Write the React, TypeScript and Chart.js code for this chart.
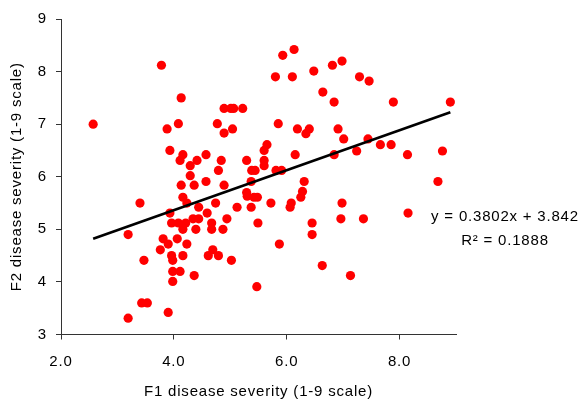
import { useEffect, useRef } from "react";
import { Chart, registerables } from "chart.js";

Chart.register(...registerables);

// F1 and F2 disease severity scores (1-9 scale), one entry per line
const f1Severity = [
  2.57, 3.78, 4.13, 3.88, 4.08, 3.93, 4.16, 4.11, 4.29, 4.41, 4.57, 4.29, 4.13, 4.36, 4.57, 4.77,
  4.89, 5.01, 5.06, 5.22, 4.89, 5.04, 4.84, 4.79, 4.89, 5.29, 5.38, 5.44, 5.6, 5.65, 5.6, 5.6,
  5.85, 5.8, 5.93, 6.13, 6.1, 6.19, 6.15, 5.81, 5.91, 5.37, 5.29, 5.3, 6.48, 6.81, 6.98, 6.64,
  6.84, 7.29, 7.46, 7.89, 8.9, 6.4, 6.34, 6.91, 7.01, 7.44, 7.66, 7.85, 7.24, 6.84, 8.14, 8.76,
  6.31, 6.28, 6.25, 8.68, 3.19, 3.4, 3.47, 3.43, 3.53, 3.19, 3.9, 3.76, 3.81, 3.9, 3.93, 3.96,
  3.96, 3.98, 3.98, 3.98, 4.11, 4.16, 4.06, 4.08, 4.16, 4.21, 4.23, 4.16, 4.23, 4.34, 4.39, 4.44,
  4.44, 4.36, 4.59, 4.67, 4.67, 4.74, 4.61, 4.69, 4.79, 4.87, 4.94, 5.02, 5.12, 5.37, 5.42, 5.48,
  5.49, 5.47, 5.72, 5.87, 6.06, 6.08, 6.45, 6.45, 6.98, 6.96, 7.36, 6.63, 7.13, 8.15,
];
const f2Severity = [
  7.0, 8.12, 7.5, 6.91, 7.01, 6.5, 6.42, 6.31, 6.21, 6.31, 6.42, 6.02, 5.84, 5.84, 5.91, 7.01,
  7.3, 7.3, 7.3, 7.3, 6.83, 6.91, 6.31, 6.12, 5.84, 6.31, 6.12, 6.12, 6.5, 6.61, 6.31, 6.21,
  7.01, 7.9, 8.31, 8.42, 7.9, 6.91, 6.42, 6.12, 6.12, 5.91, 5.7, 5.63, 8.01, 8.12, 8.2, 7.61,
  7.42, 7.9, 7.82, 7.42, 7.42, 6.91, 6.82, 6.91, 6.72, 6.72, 6.61, 6.61, 6.49, 6.42, 6.42, 6.49,
  5.91, 5.72, 5.61, 5.91, 4.9, 5.5, 4.41, 3.6, 3.6, 3.31, 3.42, 4.61, 4.82, 4.72, 5.31, 5.12,
  4.5, 4.41, 4.2, 4.01, 4.2, 4.5, 4.82, 5.12, 5.0, 5.12, 4.72, 5.61, 5.5, 5.2, 5.0, 5.2,
  5.42, 4.12, 5.31, 5.12, 5.0, 5.5, 4.5, 4.61, 4.5, 5.0, 5.2, 4.41, 5.42, 5.42, 5.61, 5.61,
  5.12, 3.91, 5.5, 4.72, 5.42, 5.5, 5.12, 4.9, 5.5, 5.2, 5.2, 4.31, 4.12, 5.31,
];

// Axis ticks
const xTicks = [2, 4, 6, 8];
const yTicks = [3, 4, 5, 6, 7, 8, 9];

// Linear trend fitted to the scores
const trendSlope = 0.3802;
const trendIntercept = 3.842;
const trendR2 = 0.1888;
const trendRange = [2.57, 8.9];

const FONT = '"Liberation Sans", Arial, sans-serif';

const textSpacing = {
  id: "textSpacing",
  beforeDraw(chart: any) {
    chart.ctx.letterSpacing = "0.8px";
  },
  afterDraw(chart: any) {
    chart.ctx.letterSpacing = "0px";
  },
};

const trendLabel = {
  id: "trendLabel",
  afterDatasetsDraw(chart: any) {
    const { ctx, chartArea, scales } = chart;
    ctx.save();
    ctx.font = `15px ${FONT}`;
    ctx.fillStyle = "#000";
    ctx.textAlign = "center";
    ctx.textBaseline = "middle";
    const cx = chartArea.right + 49;
    const cy = scales.y.getPixelForValue(5.24);
    ctx.fillText(`y = ${trendSlope}x + ${trendIntercept}`, cx, cy);
    ctx.fillText(`R² = ${trendR2}`, cx, cy + 24.5);
    ctx.restore();
  },
};

export default function App() {
  const canvasRef = useRef<HTMLCanvasElement | null>(null);

  useEffect(() => {
    if (!canvasRef.current) return;
    const points = f1Severity.map((x, i) => ({ x, y: f2Severity[i] }));
    const trend = trendRange.map((x) => ({ x, y: trendSlope * x + trendIntercept }));

    const chart = new Chart(canvasRef.current, {
      type: "scatter",
      data: {
        datasets: [
          {
            label: "F1 vs F2",
            data: points,
            backgroundColor: "#FF0000",
            borderColor: "#FF0000",
            borderWidth: 0,
            pointRadius: 4.6,
            order: 2,
          },
          {
            label: "Trend",
            data: trend,
            showLine: true,
            borderColor: "#000",
            borderWidth: 2.6,
            pointRadius: 0,
            fill: false,
            order: 1,
          },
        ],
      },
      options: {
        animation: false,
        responsive: false,
        devicePixelRatio: 1,
        layout: { padding: { top: 19, right: 125, bottom: 0, left: 0 } },
        plugins: { legend: { display: false }, tooltip: { enabled: false } },
        scales: {
          x: {
            type: "linear",
            min: 2,
            max: 9,
            afterFit: (s: any) => {
              s.height = 67.5;
            },
            afterBuildTicks: (s: any) => {
              s.ticks = xTicks.map((value) => ({ value }));
            },
            border: { display: true, color: "#333", width: 1 },
            grid: { drawOnChartArea: false, drawTicks: true, tickLength: 5, color: "#333" },
            ticks: {
              color: "#000",
              font: { family: FONT, size: 15 },
              padding: 13,
              maxRotation: 0,
              callback: (v: any) => Number(v).toFixed(1),
            },
            title: {
              display: true,
              text: "F1 disease severity (1-9 scale)",
              color: "#000",
              font: { family: FONT, size: 15 },
              padding: { top: 0, bottom: 1 },
            },
          },
          y: {
            type: "linear",
            min: 3,
            max: 9,
            afterFit: (s: any) => {
              s.width = 61;
            },
            afterBuildTicks: (s: any) => {
              s.ticks = yTicks.map((value) => ({ value }));
            },
            border: { display: true, color: "#333", width: 1 },
            grid: { drawOnChartArea: false, drawTicks: true, tickLength: 5, color: "#333" },
            ticks: {
              color: "#000",
              font: { family: FONT, size: 15 },
              padding: 9,
              callback: (v: any) => String(v),
            },
            title: {
              display: true,
              text: "F2 disease severity (1-9 scale)",
              color: "#000",
              font: { family: FONT, size: 15 },
              padding: { top: 8, bottom: 0 },
            },
          },
        },
      },
      plugins: [textSpacing, trendLabel],
    });
    return () => chart.destroy();
  }, []);

  return (
    <div style={{ position: "absolute", left: 0, top: 0, width: 581, height: 402, background: "#fff" }}>
      <canvas ref={canvasRef} width={581} height={402} />
    </div>
  );
}
